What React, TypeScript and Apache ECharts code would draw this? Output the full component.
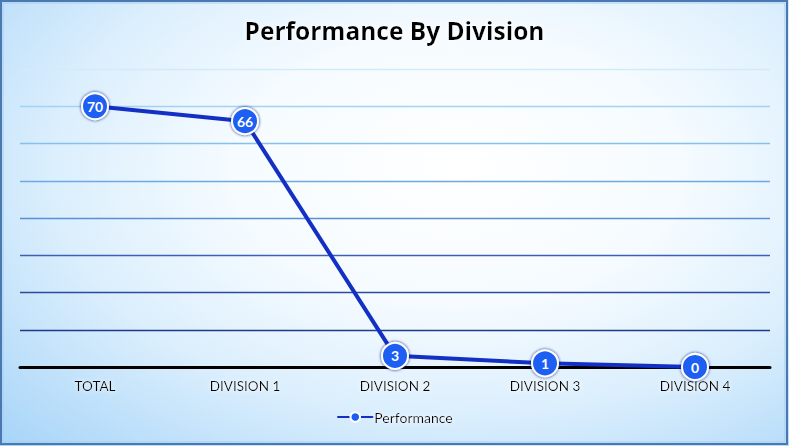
import React, { useEffect, useRef } from "react";
import * as echarts from "echarts";

const categories = ["TOTAL", "DIVISION 1", "DIVISION 2", "DIVISION 3", "DIVISION 4"];
const performance = [70, 66, 3, 1, 0];
const gridColors = ["#000000", "#1f3a8a", "#2c4a9e", "#3d60b4", "#5a8fd6", "#6da9e2", "#86c0ec", "#a3d2f2", "#d2eaf9"];

export default function App() {
  const ref = useRef<HTMLDivElement>(null);
  useEffect(() => {
    if (!ref.current) return;
    const chart = echarts.init(ref.current, undefined, { renderer: "svg" });
    const glow = { textShadowColor: "#ffffff", textShadowBlur: 4 };
    chart.setOption({
      animation: false,
      backgroundColor: "transparent",
      title: {
        text: "Performance By Division",
        left: "center",
        top: 13,
        textStyle: {
          fontFamily: "Open Sans",
          fontWeight: "bold",
          fontSize: 24.5,
          color: "#000000",
          ...glow,
        },
      },
      legend: {
        bottom: 17,
        left: "center",
        itemWidth: 36,
        itemHeight: 12,
        itemGap: 4,
        textStyle: { fontFamily: "Lato", fontSize: 14, color: "#000", padding: [0, 0, 0, -4], ...glow },
        data: ["Performance"],
      },
      grid: { left: 20, right: 19, top: 69, bottom: 79, containLabel: false },
      xAxis: {
        type: "category",
        data: categories,
        boundaryGap: true,
        axisLine: { show: true, lineStyle: { color: "#000000", width: 3 } },
        axisTick: { show: false },
        axisLabel: {
          fontFamily: "Lato",
          fontSize: 13.5,
          color: "#000000",
          margin: 12,
          ...glow,
        },
      },
      yAxis: {
        type: "value",
        min: 0,
        max: 80,
        interval: 10,
        axisLine: { show: false },
        axisTick: { show: false },
        axisLabel: { show: false },
        splitLine: { show: true, lineStyle: { color: gridColors, width: 1.3 } },
      },
      graphic: [
        {
          type: "rect",
          shape: { x: 1, y: 1, width: 786, height: 443 },
          style: { fill: "none", stroke: "#4a78b0", lineWidth: 2 },
          z: 100,
        },
        {
          type: "rect",
          shape: { x: 3, y: 3, width: 782, height: 439 },
          style: { fill: "none", stroke: "#a9cdee", lineWidth: 1 },
          z: 100,
        },
      ],
      series: [
        {
          name: "Performance",
          type: "line",
          data: performance,
          symbol: "circle",
          symbolSize: 26,
          lineStyle: { color: "#1430c4", width: 4 },
          itemStyle: {
            color: "#1d5ef2",
            borderColor: "#ffffff",
            borderWidth: 2,
            shadowColor: "rgba(10,30,140,1)",
            shadowBlur: 3,
          },
          label: {
            show: true,
            position: "inside",
            color: "#ffffff",
            fontFamily: "Lato",
            fontWeight: "bold",
            fontSize: 14,
          },
          z: 10,
        },
      ],
    });
    return () => chart.dispose();
  }, []);
  return (
    <div
      style={{
        position: "absolute",
        left: 0,
        top: 0,
        width: 789,
        height: 446,
        background:
          "radial-gradient(ellipse farthest-corner at 58% 38%, #ffffff 0%, #f5fbff 35%, #dceffd 62%, #a6d4f8 100%)",
      }}
    >
      <div ref={ref} style={{ width: 789, height: 446 }} />
    </div>
  );
}
